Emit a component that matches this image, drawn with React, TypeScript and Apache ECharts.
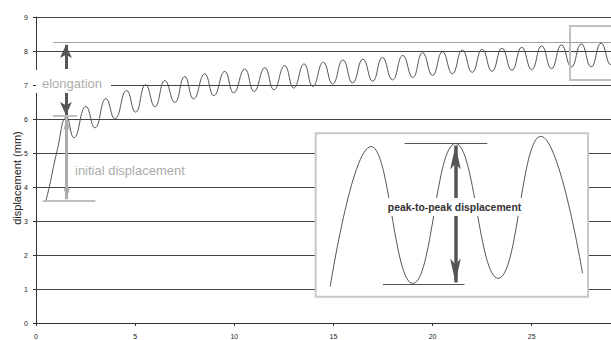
import React, { useEffect, useRef } from "react";
import * as echarts from "echarts";

// main displacement record (time, displacement in mm)
const timeValues = [
  0.5, 0.67, 1.04, 1.55, 1.91, 2.52, 2.97, 3.53, 3.98, 4.57, 5.02, 5.53, 6.0, 6.5,
  7.0, 7.5, 7.95, 8.51, 8.97, 9.52, 9.97, 10.53, 11.0, 11.54, 12.0, 12.54, 13.0,
  13.52, 13.96, 14.49, 14.96, 15.48, 15.97, 16.49, 16.98, 17.47, 17.98, 18.5, 19.0,
  19.5, 20.0, 20.5, 21.0, 21.5, 22.0, 22.5, 23.0, 23.5, 24.0, 24.5, 25.0, 25.5,
  26.0, 26.5, 27.0, 27.5, 28.0, 28.5, 29.0, 29.5,
];
const displacementValues = [
  3.6, 4.0, 5.0, 6.06, 5.45, 6.37, 5.74, 6.6, 6.0, 6.84, 6.2, 7.01, 6.36, 7.13,
  6.49, 7.25, 6.59, 7.33, 6.69, 7.4, 6.77, 7.47, 6.81, 7.51, 6.86, 7.57, 6.91,
  7.62, 6.96, 7.67, 7.03, 7.74, 7.06, 7.76, 7.11, 7.81, 7.15, 7.87, 7.22, 7.95,
  7.28, 7.98, 7.33, 8.03, 7.37, 8.05, 7.4, 8.08, 7.43, 8.11, 7.45, 8.15, 7.48,
  8.18, 7.53, 8.21, 7.53, 8.23, 7.59, 8.25,
];

// magnified inset (detail of the last cycles)
const insetTime = [27.16, 27.61, 28.07, 28.54, 29.01, 29.48, 29.94];
const insetDisp = [7.2, 8.57, 7.23, 8.6, 7.28, 8.67, 7.33];

const yTicks = [0, 1, 2, 3, 4, 5, 6, 7, 8, 9];
const xTickStep = 5;

const FONT = "'Liberation Sans', Arial, sans-serif";

export default function App() {
  const ref = useRef<HTMLDivElement>(null);

  useEffect(() => {
    if (!ref.current) return;
    const chart = echarts.init(ref.current, undefined, { renderer: "svg" });
    const mainData = timeValues.map((t, i) => [t, displacementValues[i]]);
    const insetData = insetTime.map((t, i) => [t, insetDisp[i]]);

    const dark = "#555555";
    const light = "#ababab";

    chart.setOption({
      animation: false,
      textStyle: { fontFamily: FONT },
      grid: [
        { left: 36, top: 17, right: 0, bottom: 15.3 },
        { left: 315.7, top: 133.3, width: 272.3, height: 163.4 },
      ],
      xAxis: [
        {
          type: "value",
          gridIndex: 0,
          min: 0,
          max: 29,
          interval: xTickStep,
          axisLine: { show: true, lineStyle: { color: "#333", width: 1 } },
          axisTick: { show: true, length: 3, lineStyle: { color: "#333" } },
          axisLabel: { fontSize: 7, color: "#222", margin: 10, fontFamily: FONT, showMaxLabel: false },
          splitLine: { show: false },
        },
        { type: "value", gridIndex: 1, min: 27, max: 30, show: false, splitLine: { show: false } },
      ],
      yAxis: [
        {
          type: "value",
          gridIndex: 0,
          min: yTicks[0],
          max: yTicks[yTicks.length - 1],
          interval: 1,
          axisLine: { show: true, lineStyle: { color: "#333", width: 1 } },
          axisTick: { show: true, length: 3, lineStyle: { color: "#333" } },
          axisLabel: { fontSize: 7, color: "#222", margin: 8, fontFamily: FONT },
          splitLine: { show: true, lineStyle: { color: "#444444", width: 1 } },
        },
        { type: "value", gridIndex: 1, min: 7.1, max: 8.7, show: false, splitLine: { show: false } },
      ],
      series: [
        {
          type: "line",
          xAxisIndex: 0,
          yAxisIndex: 0,
          data: mainData,
          smooth: 0.5,
          showSymbol: false,
          symbol: "none",
          lineStyle: { color: dark, width: 1 },
          z: 2,
          markLine: {
            silent: true,
            symbol: "none",
            label: { show: false },
            animation: false,
            data: [
              [
                { coord: [0.87, 8.25], lineStyle: { color: "#a0a0a0", width: 1, type: "solid" } },
                { coord: [29, 8.25] },
              ],
              [
                { coord: [0.86, 6.1], lineStyle: { color: light, width: 1.5, type: "solid" } },
                { coord: [2.07, 6.1] },
              ],
              [
                { coord: [0.35, 3.6], lineStyle: { color: light, width: 1.5, type: "solid" } },
                { coord: [3.0, 3.6] },
              ],
              [
                { coord: [1.51, 7.47], symbol: "none", lineStyle: { color: dark, width: 3, type: "solid" } },
                { coord: [1.51, 8.18], symbol: "arrow", symbolSize: [9, 13] },
              ],
              [
                { coord: [1.51, 6.78], symbol: "none", lineStyle: { color: dark, width: 3, type: "solid" } },
                { coord: [1.51, 6.12], symbol: "arrow", symbolSize: [9, 13] },
              ],
              [
                { coord: [1.55, 6.02], symbol: "arrow", symbolSize: [5, 12], lineStyle: { color: light, width: 3, type: "solid" } },
                { coord: [1.55, 3.64], symbol: "arrow", symbolSize: [5, 12] },
              ],
            ],
          },
        },
        {
          type: "line",
          xAxisIndex: 1,
          yAxisIndex: 1,
          data: insetData,
          smooth: 0.45,
          showSymbol: false,
          symbol: "none",
          lineStyle: { color: dark, width: 1 },
          z: 5,
          markLine: {
            silent: true,
            symbol: "none",
            label: { show: false },
            animation: false,
            data: [
              [
                { coord: [27.98, 8.6], lineStyle: { color: dark, width: 1, type: "solid" } },
                { coord: [28.89, 8.6] },
              ],
              [
                { coord: [27.74, 7.22], lineStyle: { color: dark, width: 1, type: "solid" } },
                { coord: [28.64, 7.22] },
              ],
              [
                { coord: [28.54, 8.58], symbol: "arrow", symbolSize: [8, 24], lineStyle: { color: dark, width: 3.5, type: "solid" } },
                { coord: [28.54, 7.24], symbol: "arrow", symbolSize: [8, 24] },
              ],
            ],
          },
        },
      ],
      graphic: [
        {
          type: "rect",
          z: 3,
          shape: { x: 315.7, y: 133.3, width: 272.3, height: 163.4 },
          style: { fill: "#ffffff", stroke: "#c8c8c8", lineWidth: 2 },
        },
        {
          type: "polyline",
          z: 3,
          shape: { points: [[640, 26], [570, 26], [570, 80], [640, 80]] },
          style: { fill: "none", stroke: "#c0c0c0", lineWidth: 2 },
        },
        {
          type: "rect",
          z: 6,
          shape: { x: 36, y: 70, width: 75, height: 23 },
          style: { fill: "#ffffff" },
        },
        {
          type: "text",
          z: 7,
          x: 42,
          y: 83,
          style: {
            text: "elongation",
            fill: light,
            font: `13px ${FONT}`,
            textAlign: "left",
            textVerticalAlign: "middle",
          },
        },
        {
          type: "text",
          z: 7,
          x: 75,
          y: 170,
          style: {
            text: "initial displacement",
            fill: light,
            font: `13px ${FONT}`,
            textAlign: "left",
            textVerticalAlign: "middle",
          },
        },
        {
          type: "rect",
          z: 11,
          shape: { x: 385, y: 198, width: 139, height: 18 },
          style: { fill: "#ffffff" },
        },
        {
          type: "text",
          z: 12,
          x: 454.5,
          y: 207,
          style: {
            text: "peak-to-peak displacement",
            fill: "#333333",
            font: `bold 10.4px ${FONT}`,
            textAlign: "center",
            textVerticalAlign: "middle",
          },
        },
        {
          type: "text",
          z: 7,
          x: 16.5,
          y: 178,
          rotation: Math.PI / 2,
          style: {
            text: "displacement (mm)",
            fill: "#222222",
            font: `11px ${FONT}`,
            textAlign: "center",
            textVerticalAlign: "middle",
          },
        },
      ],
    });

    return () => chart.dispose();
  }, []);

  return (
    <div
      ref={ref}
      style={{ position: "fixed", left: 0, top: 0, width: 611, height: 340, background: "#fff" }}
    />
  );
}
